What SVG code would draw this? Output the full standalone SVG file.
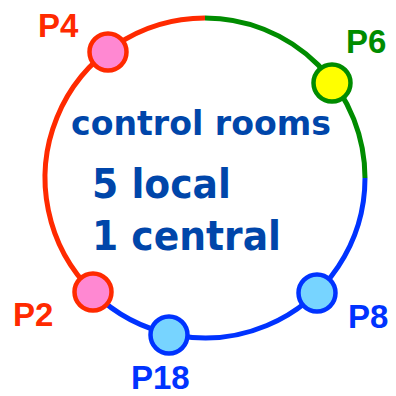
<svg xmlns="http://www.w3.org/2000/svg" width="396" height="396" viewBox="0 0 396 396">
<style>
.ring{fill:none;stroke-width:5}
.node{stroke-width:4.5}
.lbl{font-family:"Liberation Sans",Arial,sans-serif;font-weight:bold;font-size:33px}
.main{font-family:"DejaVu Sans",Verdana,sans-serif;font-weight:bold;fill:#0046aa}
</style>
<rect width="396" height="396" fill="#ffffff"/>
<g id="connectors">
<path class="ring" stroke="#ff2a00" d="M205,18 A160,160 0 0 0 92.9,292.1"/>
<path class="ring" stroke="#008c00" d="M205,18 A160,160 0 0 1 365,178"/>
<path class="ring" stroke="#0033ff" d="M365,178 A160,160 0 0 1 92.9,292.1"/>
</g>
<g id="P4"><circle class="node" cx="108" cy="52" r="18.5" fill="#ff88d2" stroke="#ff2a00"/><text class="lbl" x="38" y="37" fill="#ff2a00">P4</text></g>
<g id="P6"><circle class="node" cx="332" cy="83" r="18.5" fill="#ffff00" stroke="#008c00"/><text class="lbl" x="346" y="53" fill="#008c00">P6</text></g>
<g id="P8"><circle class="node" cx="317" cy="293" r="18.5" fill="#77d4ff" stroke="#0033ff"/><text class="lbl" x="348" y="328" fill="#0033ff">P8</text></g>
<g id="P18"><circle class="node" cx="169" cy="335" r="18.5" fill="#77d4ff" stroke="#0033ff"/><text class="lbl" x="131" y="389" fill="#0033ff">P18</text></g>
<g id="P2"><circle class="node" cx="93" cy="292" r="18.5" fill="#ff88d2" stroke="#ff2a00"/><text class="lbl" x="13" y="326" fill="#ff2a00">P2</text></g>
<g id="label">
<text class="main" x="71" y="135" font-size="34" textLength="260" lengthAdjust="spacingAndGlyphs">control rooms</text>
<text class="main" x="92" y="198" font-size="41" textLength="139" lengthAdjust="spacingAndGlyphs">5 local</text>
<text class="main" x="92" y="250" font-size="41" textLength="189" lengthAdjust="spacingAndGlyphs">1 central</text>
</g>
</svg>
